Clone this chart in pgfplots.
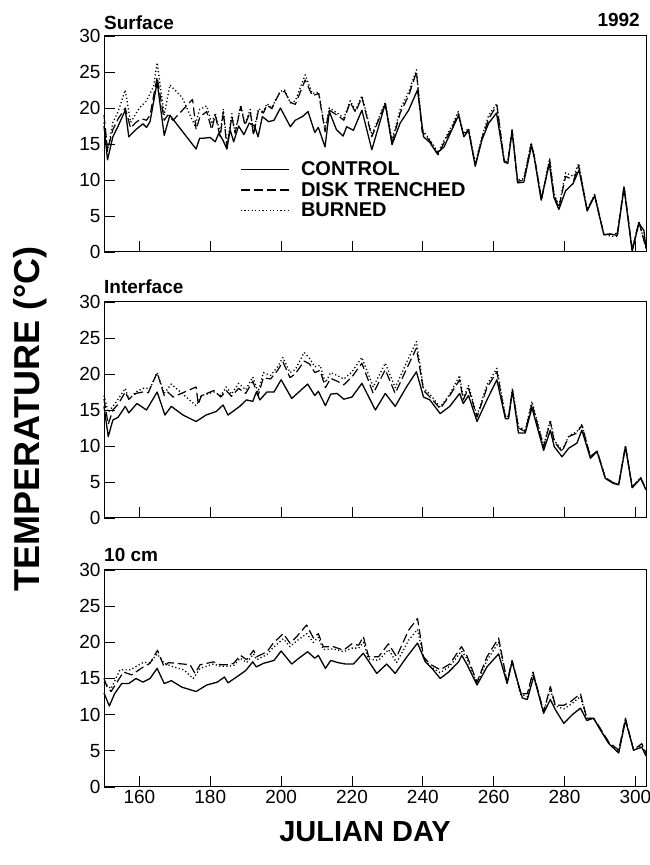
\documentclass[border=0pt]{standalone}
\usepackage{fontspec}
\setmainfont{Liberation Sans}
\usepackage{pgfplots}
\pgfplotsset{compat=1.18}

\pgfplotsset{
  panel/.style={
    width=542pt, height=216pt, scale only axis,
    xmin=150, xmax=303, ymin=0, ymax=30,
    xtick={160,180,...,300}, ytick={0,5,...,30},
    tick align=inside, major tick length=11pt,
    xtick pos=left, ytick pos=left,
    tick style={line width=0.9pt, black},
    axis line style={line width=1pt},
    ticklabel style={font=\fontsize{19}{21}\selectfont},
    /pgf/number format/assume math mode=true,
    clip=false,
    anchor=south west,
  },
  ctrl/.style={black, line width=1.3pt, line join=round},
  disk/.style={black, line width=1.2pt, line join=round, dash pattern=on 9pt off 4pt},
  burn/.style={black, line width=1.3pt, line join=round, dash pattern=on 1.2pt off 2.4pt},
}

\begin{document}
\begin{tikzpicture}
\useasboundingbox (0,0) rectangle (650pt,865pt);

% ---------------- Surface ----------------
\begin{axis}[panel, at={(104pt,613pt)}, xticklabels={},
  legend style={at={(0.251,0.43)}, anchor=north west, draw=none, fill=none,
    font=\bfseries\fontsize{20}{21}\selectfont, row sep=0pt, inner sep=0pt,
    nodes={inner sep=2.5pt},
    /tikz/every odd column/.append style={column sep=9pt}},
  legend cell align=left,
  legend image code/.code={\draw[#1] (0pt,0pt) -- (48pt,0pt);}]
\addplot[ctrl] coordinates {(150,17.5)(151,12.8)(152.5,16)(154,17.5)(156,19.7)(157,16)(159,17)(161,17.8)(162,17.3)(163,18.1)(165,23.6)(167,16.2)(168.6,19)(176,14.3)(177,15.8)(178,15.8)(180,15.9)(181.4,15.3)(182.4,16.5)(183.5,15.6)(184.7,14.3)(185.6,17)(186.6,15.3)(188,17.5)(189.5,16.3)(191,17.9)(192.5,17.5)(193.5,16)(194.7,18.8)(196.5,18.1)(198,18.3)(199.8,20)(202.6,17.4)(204,18.3)(206,18.8)(207.6,19.5)(209.5,16.6)(210.5,17.3)(212.4,14.6)(213.6,19.5)(215.6,17)(217.5,16.1)(218.5,17.4)(220.4,16.9)(222.8,19.7)(225.6,14.2)(229.4,20.6)(231.3,14.9)(233.6,17.9)(236,19.7)(238.5,22.5)(240.2,16)(242,15.2)(244,13.7)(246,14.6)(248.6,17.4)(250.1,19)(251.6,16)(252.9,16.9)(254.8,11.9)(256.7,15.6)(258.6,17.9)(260.8,19.3)(263,12.5)(264,12.3)(265.2,16.8)(266.8,9.6)(268.5,9.7)(270.7,14.8)(271.5,13)(273.4,7.2)(275.7,12.3)(277,7.6)(278.4,5.9)(280.3,8.5)(282.4,9.5)(284.1,11.4)(286.4,5.7)(288.5,7.8)(291.1,2.4)(293,2.5)(294.9,2.3)(296.8,8.9)(299.1,0.1)(301,4)(302.4,3)(303,0.5)};
\addlegendentry{CONTROL}
\addplot[disk] coordinates {(150,19)(151,14.2)(152.5,17)(154,18.5)(156,20)(157.5,17.2)(159,18)(160.5,18.5)(162,18.3)(163,19)(165,24.3)(167,18.3)(168,19)(169.5,18.3)(175,21.2)(176,17)(177.1,18.8)(179,19.5)(180.4,17)(181.4,19)(182.8,16)(183.7,19.5)(184.7,14.4)(186.1,18.8)(187,16.5)(188.6,20.2)(189.8,17.6)(191.3,19.5)(192.2,16.2)(193.6,19.7)(195,19.3)(196,20.4)(197.4,19.9)(198.3,20.9)(199.7,22.2)(201,22.3)(202.6,20.8)(204,20.5)(206.8,23.9)(208.8,21.7)(210.6,22)(212.4,16.7)(213.6,19.7)(215.8,19)(217.7,18.3)(219.5,20.8)(221,19.4)(222.8,21.5)(225.6,16)(229.4,20.6)(231.3,15.1)(233.6,19.3)(236,21.7)(238.2,25)(239.8,16.7)(242,15.4)(244.3,13.5)(246,15.2)(248.5,17.5)(250,19.2)(251.5,16.2)(252.9,17)(254.8,12.1)(256.7,15.8)(258.6,18.5)(260.9,20.4)(263,12.5)(264,12.5)(265.2,17)(266.7,9.8)(268.5,10)(270.6,15)(271.5,13.2)(273.5,7.3)(275.8,12.8)(277,8)(278.4,6.1)(280.3,10.5)(282.6,10)(284,12)(286.4,5.8)(288.5,7.9)(291.1,2.4)(293,2.5)(294.9,2.6)(296.8,9.1)(299.1,0.3)(301,4.2)(303,0.5)};
\addlegendentry{DISK TRENCHED}
\addplot[burn] coordinates {(150,18)(151,14)(152.5,18)(154,19.5)(156,22.5)(157.5,18)(160,20)(162,21)(164,23)(165,26.3)(167,19)(168.6,23.2)(172,21.5)(175.7,17.5)(177,19.8)(179,20.3)(180.4,17.8)(181.4,19.3)(182.8,16.5)(183.7,19.8)(184.7,14.8)(186.1,19.2)(187,16.5)(188.6,20.4)(189.8,17.8)(191.3,19.8)(192.2,16.5)(193.6,19.9)(195,19.5)(196,20.6)(197.4,20)(198.3,21)(199.7,22.3)(201,22.5)(202.6,20.7)(204,21)(206.8,24.6)(208.8,22)(210.6,22.2)(212.4,17)(213.6,20)(215.8,19.3)(217.7,18.6)(219.5,21)(221,19.7)(222.8,21.7)(225.6,16.3)(229.4,20.8)(231.3,15.5)(233.6,19.8)(236,22.2)(238.2,25.3)(239.8,17)(242,15.6)(244.3,13.8)(246,15.5)(248.5,17.8)(250,19.5)(251.5,16.4)(252.9,17.2)(254.8,12.3)(256.7,16)(258.6,19)(260.9,20.6)(263,12.6)(264,12.6)(265.2,17)(266.7,10)(268.5,10.2)(270.6,15.2)(271.5,13.3)(273.5,7.4)(275.8,13)(277,8.2)(278.4,6.3)(280.3,11)(282.6,10.5)(284,12.3)(286.4,5.9)(288.5,8)(291.1,2.5)(293,2.2)(294.9,2.2)(296.8,9.2)(299.1,0.3)(301,4.3)(303,0.5)};
\addlegendentry{BURNED}
\node[anchor=base west, inner sep=0pt, font=\bfseries\fontsize{19}{21}\selectfont] at (rel axis cs:0,1) [yshift=6pt] {Surface};
\node[anchor=base east, inner sep=0pt, font=\bfseries\fontsize{19}{21}\selectfont] at (rel axis cs:1,1) [xshift=-6pt, yshift=9pt] {1992};
\end{axis}

% ---------------- Interface ----------------
\begin{axis}[panel, at={(104pt,347pt)}, xticklabels={}]
\addplot[ctrl] coordinates {(150,15.5)(151.2,11.3)(152.5,13.6)(154,14)(156,15.5)(157,14.6)(159.3,15.9)(162,15)(165,17.5)(167.2,14.3)(169,15.5)(172.3,14.3)(176,13.4)(178.8,14.3)(181.7,14.8)(183.6,15.7)(185,14.3)(188.3,15.5)(190.2,16.4)(192,16.2)(193,17.5)(194,16.4)(196,17.5)(198,17.5)(200,19.2)(203,16.6)(205,17.5)(207.5,18.6)(209.5,17)(210.5,17.6)(212.5,15.6)(214,17.2)(215.8,17.3)(217.7,16.5)(220,16.8)(222.8,18.7)(226.6,15)(229.4,17.3)(232.2,15.5)(235.5,18.3)(238.2,20.3)(240.2,16.8)(242,16.4)(244.9,14.5)(247.6,15.5)(250.4,17.3)(251.4,15.9)(252.9,17)(255.3,13.4)(258.1,16.4)(260.9,19.2)(263.3,13.8)(264.2,13.8)(265.3,17.7)(267,11.8)(268.9,11.8)(270.8,15.3)(274.1,9.4)(276,12.2)(277.1,9.9)(279.3,8.5)(281.2,9.7)(283.5,10.4)(284.9,12.2)(287.3,8.3)(289.2,9.2)(291.5,5.5)(293.8,4.8)(295.3,4.6)(297.2,9.9)(299.1,4.2)(301.5,5.5)(303,3.9)};
\addplot[disk] coordinates {(150,16.5)(151.2,13)(152.5,15)(154,15.8)(156,17.5)(157,16.5)(159,17.3)(161,17.5)(162.5,17.4)(165,20.2)(167,17)(168,17.5)(169.5,16.8)(176,18.2)(176.6,15.8)(177.5,17)(179,17.3)(181,17.7)(183,16.8)(184.5,17.7)(186,16.9)(188,18)(190,17.3)(192,19)(193.5,17)(195,19.5)(197,19.3)(199,20.5)(200.5,21.7)(202.5,19.5)(204,20)(206.5,21.8)(208,21.4)(209.5,20.2)(211,20.5)(212.5,18.1)(214,19.4)(215.8,19)(217.7,18.5)(220,19.6)(222.8,21.5)(226,17.3)(229.4,20.6)(232.2,17.3)(235.5,20.8)(238.2,23.6)(240.2,17.7)(242,16.8)(244.9,15.2)(247.6,17)(250.4,19.2)(251.4,16.4)(252.9,18)(255.3,14)(258.1,18.1)(260.9,20.3)(263.3,14)(264.2,14)(265.3,17.7)(267,12.5)(268.9,12)(270.8,15.9)(274.1,9.9)(276,13.4)(277.1,10.6)(279.3,9.2)(281.2,11.3)(283.5,11.8)(284.9,12.9)(287.3,8.5)(289.2,9.3)(291.5,5.6)(293.8,4.9)(295.3,4.7)(297.2,10)(299.1,4.3)(301.5,5.6)(303,4)};
\addplot[burn] coordinates {(150,17)(151.2,14.7)(152.5,15.5)(154,16.5)(156,18)(157,16.5)(159,17.5)(161,18)(163,18)(165,20.2)(167,17.3)(169,18.6)(172,17.3)(176,15.6)(177.5,17)(179,17.2)(181,17.5)(183,17)(184.5,18.2)(186,17.2)(188,18.7)(190,17.8)(192,19.6)(193.5,17.5)(195,20.2)(197,19.8)(199,21)(200.5,22.3)(202.5,20.2)(204,20.6)(206.5,23)(208,22.2)(209.5,21)(211,21.2)(212.5,18.8)(214,20.2)(215.8,19.8)(217.7,19.3)(220,20.3)(222.8,22.3)(226,18.2)(229.4,21.5)(232.2,18.1)(235.5,21.7)(238.2,24.5)(240.2,18)(242,17.2)(244.9,15.4)(247.6,17.2)(250.4,19.8)(251.4,16.6)(252.9,18.4)(255.3,14.2)(258.1,18.5)(260.9,20.8)(263.3,14.2)(264.2,14.1)(265.3,18)(267,12.7)(268.9,12.2)(270.8,16.2)(274.1,10)(276,13.6)(277.1,10.8)(279.3,9.4)(281.2,11.4)(283.5,12)(284.9,13)(287.3,8.6)(289.2,9.3)(291.5,5.6)(293.8,4.9)(295.3,4.7)(297.2,10.1)(299.1,4.3)(301.5,5.6)(303,4)};
\node[anchor=base west, inner sep=0pt, font=\bfseries\fontsize{19}{21}\selectfont] at (rel axis cs:0,1) [yshift=8pt] {Interface};
\end{axis}

% ---------------- 10 cm ----------------
\begin{axis}[panel, at={(104pt,78pt)}, height=217pt]
\addplot[ctrl] coordinates {(150,13)(151.5,11.2)(153,12.9)(155,14.3)(157,14.3)(159,15)(161,14.5)(163,15)(165,16.4)(167,14.3)(169,14.7)(172,13.8)(176,13.2)(179,14.1)(182,14.5)(184,15.2)(185,14.4)(188,15.4)(190,16.1)(192,17.3)(193,16.6)(195,17.1)(198,17.5)(200,18.8)(203,17)(205,17.8)(207.5,18.7)(209.5,17.8)(210.5,18.2)(212.5,16.4)(214,17.5)(216,17.2)(218.2,17)(220.4,17)(223.2,18.5)(227,15.7)(229.8,17)(232.2,15.7)(235.5,18)(238.5,19.9)(240.7,17.3)(242.6,16.4)(244.9,15)(247.3,15.9)(250.1,17.3)(251,18.2)(252.4,17)(255.3,14.1)(258.1,16.6)(261.4,18.4)(263.8,14.3)(265.2,17.3)(268.1,12.3)(269.5,12.1)(271.3,15.3)(274.1,10.2)(276,12.1)(277.4,10.7)(279.8,8.8)(282.2,10)(284.5,10.9)(286.3,9.2)(288.2,9.5)(290.1,7.9)(292.5,6)(295.3,4.7)(297.2,9.2)(299.5,5.1)(301.8,5.5)(303,4.3)};
\addplot[disk] coordinates {(150,15)(150.8,13.9)(152,13.2)(155.5,15.9)(157.8,15.5)(161.1,16.6)(163,17.1)(165.1,18.9)(167,16.6)(168.2,17.2)(174.3,16.9)(175.7,15.7)(177.1,16.9)(180.9,17.3)(182.8,16.9)(185.1,16.9)(186.6,17.1)(188.5,18.2)(190.3,17.6)(192.2,18.9)(193.1,18)(196,18.7)(197.8,19.9)(200.6,21.2)(202.5,19.9)(204.4,20.8)(207.2,22.4)(209.1,20.6)(210.5,21.2)(211.9,19.4)(214.8,19.4)(217.6,18.9)(220,19.8)(221.9,19.6)(223.2,20.8)(224.7,18)(227.5,18)(230.3,19.8)(232.6,18)(236,21.7)(238.5,23.3)(240.2,18)(242,17)(244.9,16.2)(247.6,17)(250.9,19.4)(252.4,18.2)(255.3,14.5)(258.1,18)(261.4,20.6)(263.8,14.5)(265.2,17.5)(267.6,12.9)(269.5,12.9)(271.1,15.9)(274.1,10.4)(276,13.9)(277.4,11.3)(279.8,11.3)(281.7,11.8)(284.5,12.9)(286.3,9.5)(288.2,9.5)(290.1,8.1)(292.5,6.2)(295.3,5.1)(297.2,9.5)(299.5,5.1)(301.8,6)(303,4.7)};
\addplot[burn] coordinates {(150,14.5)(150.8,14.1)(152,13.6)(154.5,16.2)(157.4,16.2)(161,17.2)(163,17.2)(165,18.4)(167,17.1)(169.6,16.6)(172.5,16.2)(175.2,15)(177.1,16.4)(180.9,17)(182.8,16.7)(185.1,16.7)(186.6,16.8)(188.5,17.8)(190.3,17.2)(192.2,18.4)(193.1,17.6)(196,18.3)(197.8,19.3)(200.6,20.5)(202.5,19.4)(204.4,20.2)(207.2,21.2)(209.1,20)(210.5,20.7)(211.9,19)(214.8,19.1)(217.6,18.7)(220,19.2)(221.9,19.2)(223.2,20)(224.7,17.7)(227.5,17.5)(230.3,19)(232.6,17.2)(236,20.3)(238.5,21.8)(240.2,17.8)(242,16.7)(244.9,15.8)(247.6,16.7)(250.9,18.8)(252.4,17.8)(255.3,14.3)(258.1,17.5)(261.4,20)(263.8,14.5)(265.2,17.5)(267.6,12.8)(269.5,12.5)(271.1,15.8)(274.1,10.4)(276,13.5)(277.4,11.2)(279.8,10.8)(281.7,11.4)(284.5,12.5)(286.3,9.5)(288.2,9.5)(290.1,8)(292.5,6.1)(295.3,5)(297.2,9.3)(299.5,5.1)(301.8,5.8)(303,4.5)};
\node[anchor=base west, inner sep=0pt, font=\bfseries\fontsize{19}{21}\selectfont] at (rel axis cs:0,1) [yshift=8pt] {10 cm};
\end{axis}

\node[rotate=90, font=\bfseries\fontsize{36}{38}\selectfont] at (30pt,446pt) {TEMPERATURE (°C)};
\node[font=\bfseries\fontsize{29}{31}\selectfont] at (365pt,33pt) {JULIAN DAY};
\end{tikzpicture}
\end{document}
